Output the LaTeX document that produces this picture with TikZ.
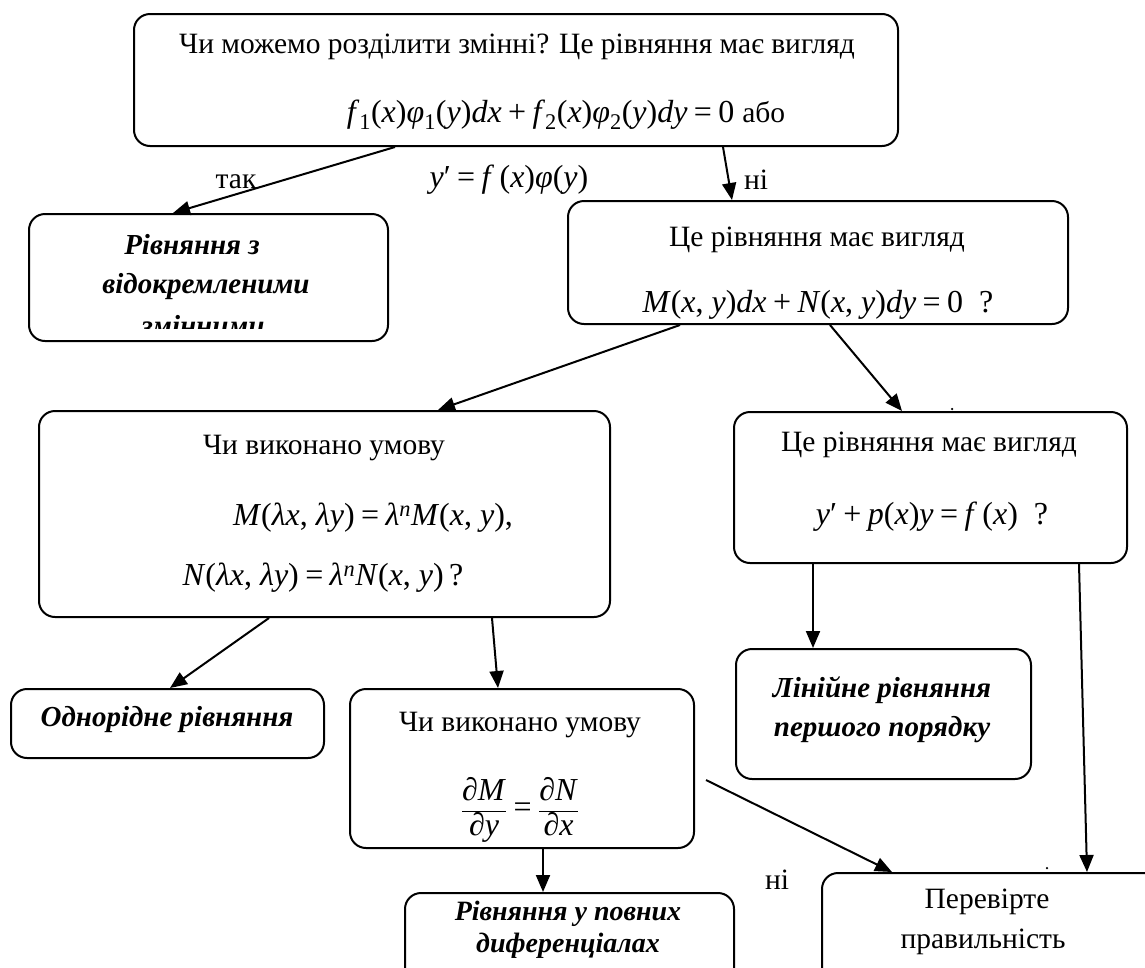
\documentclass[tikz,border=0pt]{standalone}
\usepackage{fontspec}
\setmainfont{Liberation Serif}
\usetikzlibrary{arrows.meta,calc}
\newcommand\mv[1]{\textit{#1}}
\newcommand\sbs[1]{\textsubscript{#1}}
\newcommand\sps[1]{\textsuperscript{#1}}
\newcommand\op[1]{\hspace{0.2em}#1\hspace{0.2em}}
\begin{document}
\begin{tikzpicture}[x=1pt,y=-1pt,
  box/.style={draw, line width=2pt, rounded corners=16pt, anchor=north west, inner sep=0pt},
  arr/.style={line width=2pt, -{Triangle[length=17pt,width=14pt]}},
  txt/.style={font=\fontsize{29.5}{34}\selectfont, inner sep=0pt},
  mtxt/.style={font=\fontsize{32}{36}\selectfont, inner sep=0pt},
  btxt/.style={font=\fontsize{29}{33}\selectfont\bfseries\itshape, inner sep=0pt},
  dotn/.style={circle, fill, inner sep=0pt, minimum size=2.5pt},
]
\useasboundingbox (0,0) rectangle (1145,967);

% boxes
\node[box, minimum width=764pt, minimum height=132pt] (top) at (133,13) {};
\node[box, minimum width=359pt, minimum height=127pt] (b1) at (28,213) {};
\node[box, minimum width=500pt, minimum height=123pt] (b2) at (567,200) {};
\node[box, minimum width=571pt, minimum height=206pt] (b3) at (38,410) {};
\node[box, minimum width=393pt, minimum height=151pt] (b4) at (733,411) {};
\node[box, minimum width=313pt, minimum height=69pt] (b5) at (10,688) {};
\node[box, minimum width=344pt, minimum height=159pt] (b6) at (349,688) {};
\node[box, minimum width=295pt, minimum height=130pt] (bl) at (735,648) {};
\node[box, minimum width=329pt, minimum height=130pt] (b7) at (404,892) {};
\node[box, minimum width=360pt, minimum height=130pt] (b8) at (821,872) {};

% texts
\node[txt] (t0) at (517,47) {Чи можемо розділити змінні? Це рівняння має вигляд};
\node[mtxt] (t0f) at (566,115) {\mv{f}\sbs{1}(\mv{x})\mv{φ}\sbs{1}(\mv{y})\mv{dx}\op{+}\mv{f}\sbs{2}(\mv{x})\mv{φ}\sbs{2}(\mv{y})\mv{dy}\op{=}0 {\fontsize{29.5}{34}\selectfont або}};
\node[txt] (yes) at (236,182) {так};
\node[mtxt] (sep) at (509,180) {\mv{y}′\op{=}\mv{f}\,(\mv{x})\mv{φ}(\mv{y})};
\node[txt] (no1) at (756,180) {ні};

\begin{scope}
\clip (28,213) rectangle (387,328);
\node[btxt] (b1a) at (192,245) {Рівняння з};
\node[btxt] (b1b) at (206,287) {відокремленими};
\node[btxt] (b1c) at (203,326) {змінними};
\end{scope}

\node[txt] (b2a) at (817,240) {Це рівняння має вигляд};
\node[mtxt] (b2b) at (818,305) {\mv{M}(\mv{x}, \mv{y})\mv{dx}\op{+}\mv{N}(\mv{x}, \mv{y})\mv{dy}\op{=}0\enspace?};

\node[txt] (b3a) at (324,448) {Чи виконано умову};
\node[mtxt] (b3b) at (373,518) {\mv{M}(\mv{λx}, \mv{λy})\op{=}\mv{λ}\sps{\mv{n}}\mv{M}(\mv{x}, \mv{y}),};
\node[mtxt] (b3c) at (323,578) {\mv{N}(\mv{λx}, \mv{λy})\op{=}\mv{λ}\sps{\mv{n}}\mv{N}(\mv{x}, \mv{y})\,?};

\node[txt] (b4a) at (929,445) {Це рівняння має вигляд};
\node[mtxt] (b4b) at (932,517) {\mv{y}′\op{+}\mv{p}(\mv{x})\mv{y}\op{=}\mv{f}\,(\mv{x})\enspace?};

\node[btxt] (b5a) at (167,720) {Однорідне рівняння};

\node[txt] (b6a) at (520,725) {Чи виконано умову};
\node[mtxt] (b6b) at (520,810) {$\displaystyle\frac{\hbox{\mv{∂M}}}{\hbox{\mv{∂y}}}\hbox{\op{=}}\frac{\hbox{\mv{∂N}}}{\hbox{\mv{∂x}}}$};

\node[btxt] (bla) at (882,690) {Лінійне рівняння};
\node[btxt] (blb) at (882,730) {першого порядку};

\node[txt] (no2) at (777,880) {ні};

\node[btxt, font=\fontsize{28}{32}\selectfont\bfseries\itshape] (b7a) at (568,914) {Рівняння у повних};
\node[btxt, font=\fontsize{28}{32}\selectfont\bfseries\itshape] (b7b) at (568,946) {диференціалах};

\node[txt] (b8a) at (987,902) {Перевірте};
\node[txt] (b8b) at (983,942) {правильність};

\node[dotn] (dot1) at (952,409) {};
\node[dotn] (dot2) at (1047,868) {};

% connectors
\coordinate (s6) at ($(b6.north east)+(11,92)$);
\draw[arr] ($(top.south west)+(262,0)$) -- ($(b1.north west)+(145,0)$);
\draw[arr] ($(top.south west)+(590,0)$) -- ($(b2.north west)+(165,0)$);
\draw[arr] ($(b2.south west)+(113,0)$) -- ($(b3.north west)+(400,0)$);
\draw[arr] ($(b2.south west)+(263,0)$) -- ($(b4.north west)+(169,0)$);
\draw[arr] ($(b3.south west)+(231,0)$) -- ($(b5.north west)+(160,0)$);
\draw[arr] ($(b3.south west)+(454,0)$) -- ($(b6.north west)+(149,0)$);
\draw[arr] ($(b4.south west)+(80,0)$) -- ($(bl.north west)+(78,0)$);
\draw[arr] ($(b4.south west)+(346,0)$) -- ($(b8.north west)+(266,0)$);
\draw[arr] (s6) -- ($(b8.north west)+(71,0)$);
\draw[arr] ($(b6.south west)+(194,0)$) -- ($(b7.north west)+(139,0)$);
\end{tikzpicture}
\end{document}
